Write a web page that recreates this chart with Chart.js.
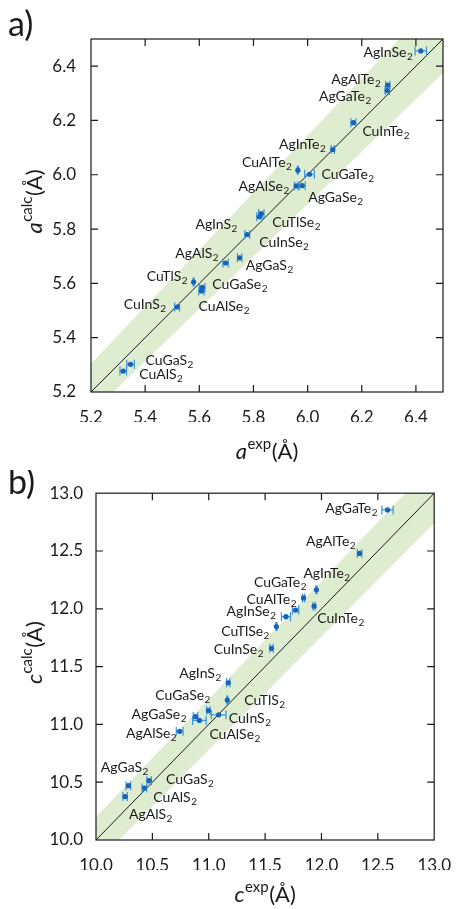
<!DOCTYPE html>
<html>
<head>
<meta charset="utf-8">
<script src="https://cdn.jsdelivr.net/npm/chart.js@4.4.0/dist/chart.umd.min.js"></script>
<style>
html, body { margin: 0; padding: 0; background: #fff; }
#wrap { position: relative; width: 466px; height: 909px; }
canvas { position: absolute; left: 0; }
</style>
</head>
<body>
<div id="wrap">
  <canvas id="chart-a" width="466" height="470" style="top:0"></canvas>
  <canvas id="chart-b" width="466" height="439" style="top:470px"></canvas>
</div>
<script>
// compounds (same order in both panels)
const compounds = ['AgInSe2', 'AgAlTe2', 'AgGaTe2', 'CuInTe2', 'AgInTe2', 'CuAlTe2', 'CuGaTe2',
  'AgAlSe2', 'AgGaSe2', 'AgInS2', 'CuTlSe2', 'CuInSe2', 'AgAlS2', 'AgGaS2', 'CuTlS2',
  'CuGaSe2', 'CuAlSe2', 'CuInS2', 'CuGaS2', 'CuAlS2'];

// a) lattice constant a (Å)
const aExp  = [6.418, 6.296, 6.294, 6.169, 6.093, 5.964, 6.007, 5.958, 5.980, 5.822, 5.829, 5.777, 5.697, 5.749, 5.579, 5.611, 5.608, 5.518, 5.346, 5.319];
const aCalc = [6.456, 6.330, 6.310, 6.192, 6.093, 6.017, 6.002, 5.959, 5.960, 5.845, 5.857, 5.780, 5.675, 5.694, 5.605, 5.585, 5.572, 5.513, 5.302, 5.277];
const aErr  = [0.021, 0.008, 0.008, 0.009, 0.006, 0.002, 0.018, 0.007, 0.011, 0.010, 0.010, 0.009, 0.010, 0.008, 0.002, 0.010, 0.010, 0.009, 0.014, 0.012];

// b) lattice constant c (Å)
const cExp  = [11.685, 12.338, 12.586, 11.935, 11.955, 11.770, 11.841, 10.742, 10.883, 11.173, 11.600, 11.557, 10.258, 10.287, 11.165, 10.997, 10.917, 11.088, 10.471, 10.429];
const cCalc = [11.932, 12.479, 12.855, 12.023, 12.165, 11.989, 12.094, 10.940, 11.068, 11.360, 11.846, 11.658, 10.376, 10.470, 11.211, 11.120, 11.034, 11.083, 10.513, 10.450];
const cErr  = [0.040, 0.020, 0.050, 0.010, 0.005, 0.028, 0.010, 0.030, 0.020, 0.015, 0.005, 0.015, 0.020, 0.020, 0.005, 0.015, 0.060, 0.065, 0.020, 0.020];

// axis ticks
const ticksA = [5.2, 5.4, 5.6, 5.8, 6.0, 6.2, 6.4];
const ticksB = [10.0, 10.5, 11.0, 11.5, 12.0, 12.5, 13.0];

// shaded band edges [x, lower, upper]
const bandA = [[5.2, 5.120, 5.304], [6.5, 6.375, 6.670]];
const bandB = [[10.0, 9.80, 10.20], [13.0, 12.74, 13.26]];

// label offsets from the point, px: [dx, dy, side]
const labelPosA = [[-8, 1, 'r'], [-7, -6, 'r'], [-16, 5, 'r'], [9, 8, 'l'], [-7, -6, 'r'], [-6, -8, 'r'], [12, 0, 'l'],
  [-7, 0, 'r'], [6, 11, 'l'], [-22, 7, 'r'], [11, 8, 'l'], [12, 7, 'l'], [-7, -10, 'r'], [6, 7, 'l'], [-6, -6, 'r'],
  [10, -3, 'l'], [-3, 15, 'l'], [-11, -3, 'r'], [15, -4, 'l'], [16, 3, 'l']];
const labelPosB = [[-10, -6, 'r'], [-4, -12, 'r'], [-10, -2, 'r'], [3, 12, 'l'], [-13, -17, 'l'], [1, -11, 'r'], [3, -16, 'r'],
  [-3, 2, 'r'], [-9, -3, 'r'], [-7, -10, 'r'], [-7, 4, 'r'], [-8, 1, 'r'], [4, 17, 'l'], [20, -19, 'r'], [17, 0, 'l'],
  [2, -16, 'r'], [10, 14, 'l'], [10, 3, 'l'], [17, -2, 'l'], [9, 9, 'l']];

const FONT = 'Lato, "Open Sans", sans-serif';
const INK = '#1a1a1a';

function drawChem(ctx, name, x, y, side) {
  const main = name.slice(0, -1), sub = name.slice(-1);
  ctx.font = '14px ' + FONT;
  const w1 = ctx.measureText(main).width;
  ctx.font = '10px ' + FONT;
  const w2 = ctx.measureText(sub).width;
  const x0 = side === 'r' ? x - w1 - w2 - 0.5 : x;
  ctx.textBaseline = 'alphabetic';
  ctx.textAlign = 'left';
  ctx.font = '14px ' + FONT;
  ctx.fillText(main, x0, y + 5);
  ctx.font = '10px ' + FONT;
  ctx.fillText(sub, x0 + w1 + 0.5, y + 8);
}

// italic symbol + superscript + "(Å)", centred on (0,0) of current transform
function drawAxisTitle(ctx, sym, sup) {
  const rest = '(Å)';
  ctx.font = 'italic 22px ' + FONT;
  const w1 = ctx.measureText(sym).width;
  ctx.font = '15px ' + FONT;
  const w2 = ctx.measureText(sup).width;
  ctx.font = '22px ' + FONT;
  const w3 = ctx.measureText(rest).width;
  let x = -(w1 + w2 + w3 + 1) / 2;
  ctx.textAlign = 'left';
  ctx.textBaseline = 'alphabetic';
  ctx.font = 'italic 22px ' + FONT;
  ctx.fillText(sym, x, 7);
  x += w1 + 0.5;
  ctx.font = '15px ' + FONT;
  ctx.fillText(sup, x, -3);
  x += w2 + 0.5;
  ctx.font = '22px ' + FONT;
  ctx.fillText(rest, x, 7);
}

const decorPlugin = {
  id: 'decor',
  afterDatasetDraw(chart, args, opts) {
    if (args.index !== 1) return;   // after diagonal, before the points
    const { ctx, scales: { x, y } } = chart;
    const pts = chart.data.datasets[0].data;
    ctx.save();
    ctx.strokeStyle = '#3b94da';
    ctx.lineWidth = 1.2;
    pts.forEach((p, i) => {
      const e = opts.err[i];
      const x0 = x.getPixelForValue(p.x - e);
      const x1 = x.getPixelForValue(p.x + e);
      const py = y.getPixelForValue(p.y);
      ctx.beginPath();
      ctx.moveTo(x0, py); ctx.lineTo(x1, py);
      ctx.moveTo(x0, py - 4.5); ctx.lineTo(x0, py + 4.5);
      ctx.moveTo(x1, py - 4.5); ctx.lineTo(x1, py + 4.5);
      ctx.stroke();
    });
    ctx.restore();
  },
  afterDraw(chart, args, opts) {
    const { ctx, chartArea: a, scales: { x, y } } = chart;
    ctx.save();
    // frame
    ctx.strokeStyle = INK;
    ctx.lineWidth = 1.2;
    ctx.strokeRect(a.left, a.top, a.right - a.left, a.bottom - a.top);
    // inward ticks on all four sides
    ctx.beginPath();
    x.ticks.forEach(t => {
      const px = x.getPixelForValue(t.value);
      if (px <= a.left + 1 || px >= a.right - 1) return;
      ctx.moveTo(px, a.bottom); ctx.lineTo(px, a.bottom - 7);
      ctx.moveTo(px, a.top); ctx.lineTo(px, a.top + 7);
    });
    y.ticks.forEach(t => {
      const py = y.getPixelForValue(t.value);
      if (py <= a.top + 1 || py >= a.bottom - 1) return;
      ctx.moveTo(a.left, py); ctx.lineTo(a.left + 7, py);
      ctx.moveTo(a.right, py); ctx.lineTo(a.right - 7, py);
    });
    ctx.stroke();

    // compound labels
    ctx.fillStyle = INK;
    const pts = chart.data.datasets[0].data;
    pts.forEach((p, i) => {
      const [dx, dy, side] = opts.offsets[i];
      drawChem(ctx, opts.names[i], x.getPixelForValue(p.x) + dx, y.getPixelForValue(p.y) + dy, side);
    });

    // axis titles
    ctx.save();
    ctx.translate((a.left + a.right) / 2, opts.xTitleY);
    drawAxisTitle(ctx, opts.sym, 'exp');
    ctx.restore();
    ctx.save();
    ctx.translate(opts.yTitleX, (a.top + a.bottom) / 2 - 14);
    ctx.rotate(-Math.PI / 2);
    drawAxisTitle(ctx, opts.sym, 'calc');
    ctx.restore();

    // panel letter
    ctx.font = '34px ' + FONT;
    ctx.textAlign = 'left';
    ctx.textBaseline = 'alphabetic';
    ctx.fillText(opts.panel, 8, opts.panelY);
    ctx.restore();
  }
};

function axis(min, max, ticks, isY, pad) {
  return {
    type: 'linear',
    min: min,
    max: max,
    afterBuildTicks: s => { s.ticks = ticks.map(v => ({ value: v })); },
    afterFit: s => { if (isY) s.width = 60; else s.height = 30; },
    grid: { display: false, drawTicks: false },
    border: { display: false },
    ticks: {
      callback: v => Number(v).toFixed(1),
      font: { family: FONT, size: 17 },
      color: INK,
      padding: pad,
      maxRotation: 0,
      autoSkip: false
    }
  };
}

function makeChart(id, xs, ys, errs, band, ticks, offsets, min, max, extra) {
  const points = compounds.map((_, i) => ({ x: xs[i], y: ys[i] }));
  new Chart(document.getElementById(id), {
    type: 'scatter',
    data: {
      datasets: [
        { data: points, pointRadius: 2.6, pointBackgroundColor: '#1763b6', pointBorderWidth: 0 },
        { type: 'line', data: [{ x: min, y: min }, { x: max, y: max }], borderColor: INK, borderWidth: 1, pointRadius: 0, fill: false },
        { type: 'line', data: band.map(b => ({ x: b[0], y: b[2] })), borderWidth: 0, pointRadius: 0, fill: false },
        { type: 'line', data: band.map(b => ({ x: b[0], y: b[1] })), borderWidth: 0, pointRadius: 0,
          fill: '-1', backgroundColor: 'rgba(222, 236, 207, 1)' }
      ]
    },
    options: {
      responsive: false,
      animation: false,
      devicePixelRatio: 1,
      layout: { padding: extra.padding },
      scales: {
        x: axis(min, max, ticks, false, 15),
        y: axis(min, max, ticks, true, extra.yPad)
      },
      plugins: {
        legend: { display: false },
        tooltip: { enabled: false },
        decor: {
          names: compounds, err: errs, offsets: offsets,
          sym: extra.sym, panel: extra.panel, panelY: extra.panelY,
          xTitleY: extra.xTitleY, yTitleX: 35
        }
      }
    },
    plugins: [decorPlugin]
  });
}

makeChart('chart-a', aExp, aCalc, aErr, bandA, ticksA, labelPosA, 5.2, 6.5,
  { padding: { left: 31, right: 23, top: 39, bottom: 48 }, yPad: 15, sym: 'a', panel: 'a)', panelY: 36, xTitleY: 452 });
makeChart('chart-b', cExp, cCalc, cErr, bandB, ticksB, labelPosB, 10, 13,
  { padding: { left: 36, right: 18, top: 19, bottom: 39 }, yPad: 13, sym: 'c', panel: 'b)', panelY: 24, xTitleY: 425 });
</script>
</body>
</html>
